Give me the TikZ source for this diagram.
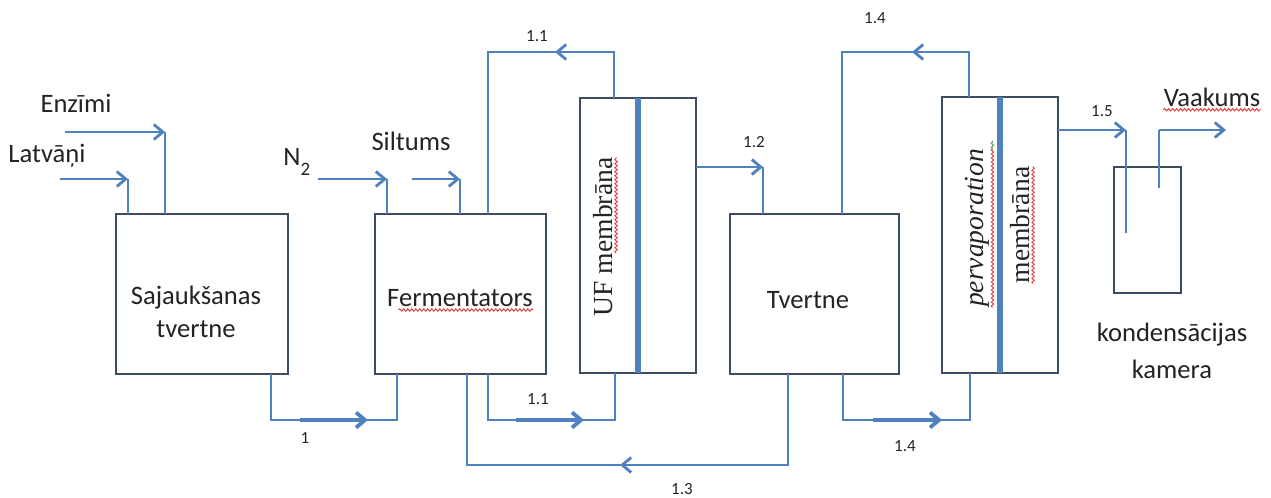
\documentclass[tikz,border=0pt]{standalone}
\usepackage{fontspec}
\setmainfont{Carlito}
\newfontfamily\tms{Liberation Serif}
\usetikzlibrary{arrows.meta,decorations.pathmorphing,calc}
\definecolor{pipeblue}{RGB}{79,129,189}
\definecolor{boxline}{RGB}{62,76,96}
\definecolor{txt}{RGB}{35,35,35}
\definecolor{spellred}{RGB}{225,70,70}
\definecolor{spellgreen}{RGB}{90,160,90}
\tikzset{
  pipe/.style={draw=pipeblue, line width=1.4pt},
  flow/.style={pipe, -{Straight Barb[length=4.5pt,width=7.5pt]}},
  heavyflow/.style={flow, line width=1.9pt},
  unit/.style={draw=boxline, line width=1.4pt, inner sep=0pt, outer sep=0pt},
  membrane/.style={draw=pipeblue, line width=3pt},
  lbl/.style={font=\fontsize{13.3}{16.5}\selectfont, text=txt, inner sep=0pt, align=center},
  num/.style={font=\fontsize{8.5}{10}\selectfont, text=txt, inner sep=0pt},
  vtext/.style={font=\tms\fontsize{13.8}{16}\selectfont, text=txt, rotate=90, inner sep=0pt},
  spell/.style={draw=spellred, line width=0.5pt, decorate,
                decoration={snake, segment length=2pt, amplitude=0.6pt}},
}
\begin{document}
\begin{tikzpicture}[x=0.5pt, y=-0.5pt]
\useasboundingbox (0,0) rectangle (1271,498);

% process units
\node[unit, minimum width=86pt,   minimum height=80pt]    (saj)  at (202,294)    {};
\node[unit, minimum width=85.5pt, minimum height=80pt]    (ferm) at (460.5,294)  {};
\node[unit, minimum width=58pt,   minimum height=137.5pt] (uf)   at (638,235.5)  {};
\node[unit, minimum width=84.5pt, minimum height=80pt]    (tv)   at (814.5,294)  {};
\node[unit, minimum width=58pt,   minimum height=138pt]   (perv) at (1000,235)   {};
\node[unit, minimum width=33.5pt, minimum height=63pt]    (cond) at (1147.5,230) {};

% membranes
\draw[membrane] (uf.north) -- (uf.south);
\draw[membrane] (perv.north) -- (perv.south);

% feeds into the mixing tank
\coordinate (enzA) at (65,132);   \coordinate (enzB) at (165,132);
\coordinate (latA) at (60,179);   \coordinate (latB) at (128,179);
\draw[flow] (enzA) -- (enzB);
\draw[pipe] (enzB) -- (saj.north -| enzB);
\draw[flow] (latA) -- (latB);
\draw[pipe] (latB) -- (saj.north -| latB);

% feeds into the fermenter
\coordinate (n2A) at (318,179);   \coordinate (n2B) at (387,179);
\coordinate (silA) at (412,179);  \coordinate (silB) at (460,179);
\draw[flow] (n2A) -- (n2B);
\draw[pipe] (n2B) -- (ferm.north -| n2B);
\draw[flow] (silA) -- (silB);
\draw[pipe] (silB) -- (ferm.north -| silB);

% stream 1
\coordinate (s1a) at (271,420); \coordinate (s1b) at (397,420);
\coordinate (s1m) at (300,420); \coordinate (s1t) at (368,420);
\draw[pipe] (saj.south -| s1a) -- (s1a) -- (s1b) -- (ferm.south -| s1b);
\draw[heavyflow] (s1m) -- (s1t);

% stream 1.1 (fermenter -> UF)
\coordinate (s11a) at (488,420); \coordinate (s11b) at (615,420);
\coordinate (s11m) at (516,420); \coordinate (s11t) at (584,420);
\draw[pipe] (ferm.south -| s11a) -- (s11a) -- (s11b) -- (uf.south -| s11b);
\draw[heavyflow] (s11m) -- (s11t);

% stream 1.1 (UF retentate back to fermenter)
\coordinate (r11a) at (614,52); \coordinate (r11b) at (488,52); \coordinate (r11t) at (555,52);
\draw[pipe] (uf.north -| r11a) -- (r11a) -- (r11b) -- (ferm.north -| r11b);
\draw[flow] (r11a) -- (r11t);

% stream 1.2 (UF permeate -> tank)
\coordinate (s12) at (763,167);
\draw[flow] (uf.east |- s12) -- (s12);
\draw[pipe] (s12) -- (tv.north -| s12);

% stream 1.3 (tank -> fermenter)
\coordinate (s13a) at (788,465); \coordinate (s13b) at (467,465); \coordinate (s13t) at (620,465);
\draw[pipe] (tv.south -| s13a) -- (s13a) -- (s13b) -- (ferm.south -| s13b);
\draw[flow] (s13a) -- (s13t);

% stream 1.4 (tank -> pervaporation)
\coordinate (s14a) at (843,420); \coordinate (s14b) at (970,420);
\coordinate (s14m) at (873,420); \coordinate (s14t) at (942,420);
\draw[pipe] (tv.south -| s14a) -- (s14a) -- (s14b) -- (perv.south -| s14b);
\draw[heavyflow] (s14m) -- (s14t);

% stream 1.4 (pervaporation retentate -> tank)
\coordinate (r14a) at (969,52); \coordinate (r14b) at (842,52); \coordinate (r14t) at (912,52);
\draw[pipe] (perv.north -| r14a) -- (r14a) -- (r14b) -- (tv.north -| r14b);
\draw[flow] (r14a) -- (r14t);

% stream 1.5 (permeate -> condensation chamber)
\coordinate (s15) at (1126,130); \coordinate (s15e) at (1126,233);
\draw[flow] (perv.east |- s15) -- (s15);
\draw[pipe] (s15) -- (s15e);

% vacuum line
\coordinate (vacA) at (1159,188); \coordinate (vacB) at (1159,130); \coordinate (vacT) at (1226,130);
\draw[pipe] (vacA) -- (vacB);
\draw[flow] (vacB) -- (vacT);

% labels
\node[lbl] (tEnz)  at (76,103)   {Enzīmi};
\node[lbl] (tLat)  at (47,156)   {Latvāņi};
\node[lbl, anchor=base west] (tN2) at (283,165)
     {N\raisebox{-0.85ex}{\fontsize{9.5}{10}\selectfont 2}};
\node[lbl] (tSil)  at (411,141)  {Siltums};
\node[lbl] (tSaj)  at (196,312)  {Sajaukšanas\\tvertne};
\node[lbl] (tFerm) at (460,298)  {Fermentators};
\node[lbl] (tTv)   at (808,300)  {Tvertne};
\node[lbl, font=\fontsize{13.3}{18.5}\selectfont] (tCond) at (1172,351) {kondensācijas\\kamera};
\node[lbl] (tVak)  at (1212,97)  {Vaakums};
\node[vtext] (tUF)   at (603,237) {UF membrāna};
\node[vtext, font=\tms\itshape\fontsize{13.8}{16}\selectfont] (tPerv) at (977,228) {pervaporation};
\node[vtext] (tMem)  at (1020,225) {membrāna};

% stream numbers
\node[num] (n1)    at (305,438) {1};
\node[num] (n11b)  at (538,399) {1.1};
\node[num] (n11t)  at (537,36)  {1.1};
\node[num] (n12)   at (754,142) {1.2};
\node[num] (n13)   at (682,489) {1.3};
\node[num] (n14t)  at (875,18)  {1.4};
\node[num] (n14b)  at (905,446) {1.4};
\node[num] (n15)   at (1102,111) {1.5};

% spell-check underlines
\draw[spell] ($($(tFerm.south west)!0.08!(tFerm.south east)$)+(0,3)$) -- ($(tFerm.south east)+(0,3)$);
\draw[spell] ($(tVak.south west)+(0,3)$) -- ($(tVak.south east)+(0,3)$);
\draw[spell] ($($(tUF.south west)!0.4!(tUF.south east)$)+(3,0)$) -- ($(tUF.south east)+(3,0)$);
\draw[spell] ($(tPerv.south west)+(3,0)$) -- ($(tPerv.south east)+(3,0)$);
\draw[spell, draw=spellgreen] ($(tPerv.south east)+(3,0)$) -- ($(tPerv.south east)+(3,-8)$);
\draw[spell] ($(tMem.south west)+(3,0)$) -- ($(tMem.south east)+(3,0)$);
\end{tikzpicture}
\end{document}
